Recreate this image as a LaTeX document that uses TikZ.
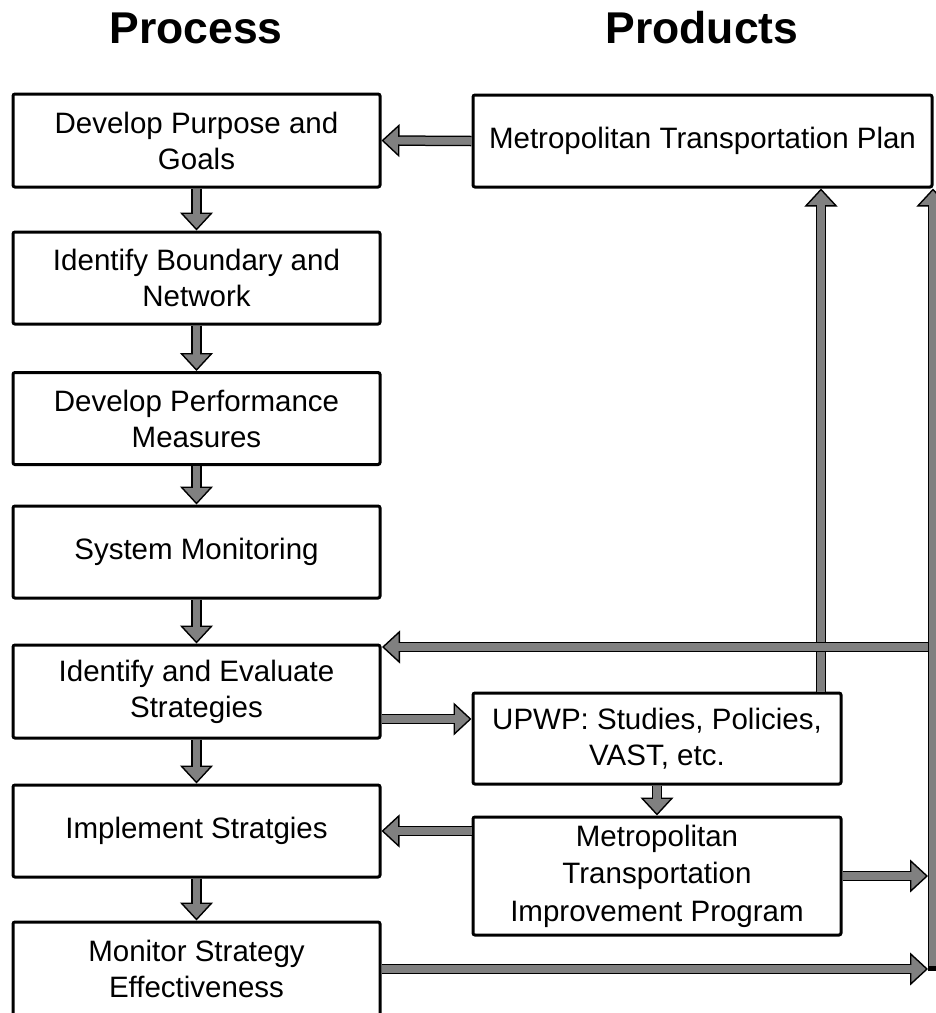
\documentclass[tikz,border=0pt]{standalone}
\usepackage{fontspec}
\setmainfont{Liberation Sans}
\usetikzlibrary{arrows.meta}
\definecolor{garrow}{HTML}{808080}
\begin{document}
\begin{tikzpicture}[x=1pt,y=-1pt,
  box/.style={draw=black, line width=3pt, fill=white, rounded corners=2pt, inner sep=0pt,
    align=center, font=\fontsize{29.5}{36}\selectfont},
  ttl/.style={inner sep=0pt, font=\fontsize{44.5}{50}\selectfont\bfseries},
  barrow/.style={draw=garrow, line width=7.5pt,
    -{Triangle[length=18pt,width=33pt,color=black,fill=garrow,line width=1.4pt]},
    preaction={draw=black, line width=10.5pt, -, shorten >=17pt},
    postaction={draw=garrow, line width=7.5pt, -, shorten >=15pt}},
  barbar/.style={draw=garrow, line width=7.5pt,
    -{Triangle[length=18pt,width=33pt,color=black,fill=garrow,line width=1.4pt]},
    preaction={draw=black, line width=10.5pt, -, line cap=rect, shorten >=17pt},
    postaction={draw=garrow, line width=7.5pt, -, shorten >=15pt}}]
\useasboundingbox (0,0) rectangle (936,1013);
\fill[white] (0,0) rectangle (936,1013);

% titles
\node[ttl] (tproc) at (196,28) {Process};
\node[ttl] (tprod) at (702,28) {Products};

% process column
\node[box, minimum width=367pt, minimum height=93pt] (dpg) at (196.5,140.5) {Develop Purpose and\\Goals};
\node[box, minimum width=367pt, minimum height=92pt] (ibn) at (196.5,278) {Identify Boundary and\\Network};
\node[box, minimum width=367pt, minimum height=92pt] (dpm) at (196.5,418.5) {Develop Performance\\Measures};
\node[box, minimum width=367pt, minimum height=92pt] (sm) at (196.5,552) {System Monitoring};
\node[box, minimum width=367pt, minimum height=93pt] (ies) at (196.5,691.5) {Identify and Evaluate\\Strategies};
\node[box, minimum width=367pt, minimum height=92pt] (impl) at (196.5,831) {Implement Stratgies};
\node[box, minimum width=367pt, minimum height=94pt] (mse) at (196.5,969) {Monitor Strategy\\Effectiveness};

% products column
\node[box, minimum width=459pt, minimum height=92pt] (mtp) at (702.5,141) {Metropolitan Transportation Plan};
\node[box, minimum width=368pt, minimum height=91pt] (upwp) at (657,738.5) {UPWP: Studies, Policies,\\VAST, etc.};
\node[box, minimum width=368pt, minimum height=118pt, font=\fontsize{29.5}{37.5}\selectfont] (mtip) at (657,876) {Metropolitan\\Transportation\\Improvement Program};

% helper coordinates
\coordinate (ux) at (821,0);
\coordinate (bx) at (933,0);
\coordinate (barbot) at (933,966);
\coordinate (r647) at (0,647);
\coordinate (r719) at (0,719);
\coordinate (tipx) at (928,0);
\coordinate (iesx) at (382,0);

% process flow
\draw[barrow] (dpg.south) -- (ibn.north);
\draw[barrow] (ibn.south) -- (dpm.north);
\draw[barrow] (dpm.south) -- (sm.north);
\draw[barrow] (sm.south) -- (ies.north);
\draw[barrow] (ies.south) -- (impl.north);
\draw[barrow] (impl.south) -- (mse.north);

% products links
\draw[barrow] (mtp.west) -- (dpg.east);
\draw[barrow] (ies.east |- r719) -- (upwp.west |- r719);
\draw[barrow] (upwp.south) -- (mtip.north);
\draw[barrow] (upwp.north -| ux) -- (mtp.south -| ux);
\draw[barrow] (impl.east -| mtip.west) -- (impl.east);

% feedback bar
\draw[barrow] (bx |- r647) -- (iesx |- r647);
\draw[barrow] (mtip.east) -- (tipx |- mtip.east);
\draw[barrow] (mse.east) -- (tipx |- mse.east);
\draw[barbar] (barbot) -- (mtp.south -| bx);
\end{tikzpicture}
\end{document}
